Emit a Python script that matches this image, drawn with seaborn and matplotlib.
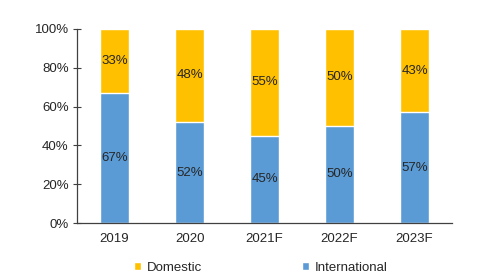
import matplotlib
matplotlib.use("Agg")
import matplotlib.pyplot as plt
import seaborn as sns
import pandas as pd

years = ["2019", "2020", "2021F", "2022F", "2023F"]
international = [67, 52, 45, 50, 57]
domestic = [33, 48, 55, 50, 43]

df = pd.DataFrame({"year": years, "International": international, "Domestic": domestic})
df["total"] = df["International"] + df["Domestic"]

sns.set_style("white")
plt.rcParams["font.family"] = ["Liberation Sans", "DejaVu Sans"]

yellow = "#FFC000"
blue = "#5B9BD5"
txt = "#262626"
fs = 9.5

fig = plt.figure(figsize=(4.85, 2.75), dpi=100)
ax = fig.add_axes([0.159, 0.189, 0.773, 0.706])

# stacked bars: full height in yellow, international on top of it in blue
sns.barplot(data=df, x="year", y="total", color=yellow, width=0.38, saturation=1, ax=ax, label="Domestic")
sns.barplot(data=df, x="year", y="International", color=blue, width=0.38, saturation=1, ax=ax, label="International")

for i, (a, b) in enumerate(zip(international, domestic)):
    ax.text(i, a / 2, f"{a}%", ha="center", va="center", fontsize=fs, color=txt)
    ax.text(i, a + b / 2, f"{b}%", ha="center", va="center", fontsize=fs, color=txt)

ax.set_ylim(0, 100)
ax.set_xlim(-0.5, 4.5)
ax.set_yticks(range(0, 101, 20))
ax.set_yticklabels([f"{v}%" for v in range(0, 101, 20)])
ax.set_xlabel("")
ax.set_ylabel("")
ax.tick_params(axis="y", direction="inout", length=6, width=0.8, color="#404040", labelsize=fs, labelcolor=txt, left=True, pad=3)
ax.tick_params(axis="x", length=0, labelsize=fs, labelcolor=txt, pad=7)
for s in ["top", "right"]:
    ax.spines[s].set_visible(False)
for s in ["left", "bottom"]:
    ax.spines[s].set_color("#404040")
    ax.spines[s].set_linewidth(0.9)

ax.legend(loc="upper center", bbox_to_anchor=(0.49, -0.185), ncol=2, frameon=False,
          fontsize=fs, handlelength=0.55, handleheight=0.55, columnspacing=7.6, handletextpad=0.4,
          labelcolor=txt, borderaxespad=0, borderpad=0.2)

fig.savefig("out.png", dpi=100)
